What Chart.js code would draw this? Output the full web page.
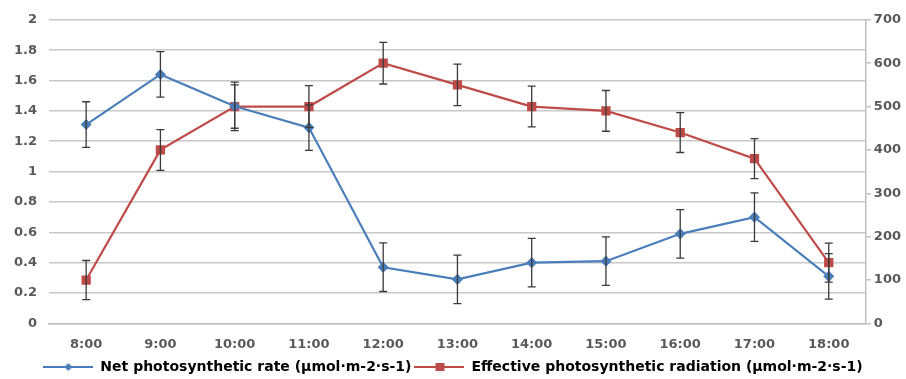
<!DOCTYPE html>
<html>
<head>
<meta charset="utf-8">
<script src="https://cdn.jsdelivr.net/npm/chart.js@4.4.0/dist/chart.umd.min.js"></script>
<style>
  html, body { margin: 0; padding: 0; background: #fff; }
  #wrap { width: 906px; height: 379px; }
</style>
</head>
<body>
<div id="wrap"><canvas id="chart"></canvas></div>
<script>
// categories and values
const hours = ['8:00', '9:00', '10:00', '11:00', '12:00', '13:00', '14:00', '15:00', '16:00', '17:00', '18:00'];
const netRate = [1.31, 1.64, 1.43, 1.29, 0.37, 0.29, 0.40, 0.41, 0.59, 0.70, 0.31];
const netRateErr = [0.15, 0.15, 0.16, 0.15, 0.16, 0.16, 0.16, 0.16, 0.16, 0.16, 0.15];
const radiation = [100, 400, 500, 500, 600, 550, 500, 490, 440, 380, 140];
const radiationErr = [45, 47, 50, 48, 48, 48, 47, 47, 46, 46, 45];
const leftTicks = [0, 0.2, 0.4, 0.6, 0.8, 1, 1.2, 1.4, 1.6, 1.8, 2];
const rightTicks = [0, 100, 200, 300, 400, 500, 600, 700];

const blue = '#4a7ebb';
const red = '#be4b48';
const tickFont = { family: 'DejaVu Sans', size: 13, weight: 'bold' };

// legend symbol: line with marker in the middle, like the Excel legend
function legendIcon(color, shape) {
  const c = document.createElement('canvas');
  c.width = 50; c.height = 12;
  const g = c.getContext('2d');
  g.strokeStyle = color; g.lineWidth = 2;
  g.beginPath(); g.moveTo(0, 6); g.lineTo(50, 6); g.stroke();
  g.fillStyle = color;
  if (shape === 'diamond') {
    g.beginPath(); g.moveTo(25, 2); g.lineTo(29, 6); g.lineTo(25, 10); g.lineTo(21, 6); g.closePath(); g.fill();
  } else {
    g.fillRect(21, 2, 9, 8);
  }
  return c;
}

// error bars drawn through the chart's own scales
const errorBars = {
  id: 'errorBars',
  afterDatasetsDraw(chart) {
    const ctx = chart.ctx;
    const sets = [[0, netRateErr], [1, radiationErr]];
    ctx.save();
    ctx.strokeStyle = '#3a3a3a';
    ctx.lineWidth = 1.3;
    sets.forEach(([i, errs]) => {
      const ds = chart.data.datasets[i];
      const meta = chart.getDatasetMeta(i);
      const yScale = chart.scales[ds.yAxisID];
      meta.data.forEach((pt, j) => {
        const x = pt.x;
        const top = yScale.getPixelForValue(ds.data[j] + errs[j]);
        const bot = yScale.getPixelForValue(ds.data[j] - errs[j]);
        ctx.beginPath();
        ctx.moveTo(x, top); ctx.lineTo(x, bot);
        ctx.moveTo(x - 4, top); ctx.lineTo(x + 4, top);
        ctx.moveTo(x - 4, bot); ctx.lineTo(x + 4, bot);
        ctx.stroke();
      });
    });
    ctx.restore();
  }
};

const config = {
  type: 'line',
  data: {
    labels: hours,
    datasets: [{
      label: 'Net photosynthetic rate (\u03bcmol\u00b7m-2\u00b7s-1)',
      data: netRate,
      yAxisID: 'y',
      borderColor: blue,
      backgroundColor: blue,
      borderWidth: 2.2,
      pointStyle: 'rectRot',
      pointRadius: 4,
      tension: 0
    }, {
      label: 'Effective photosynthetic radiation (\u03bcmol\u00b7m-2\u00b7s-1)',
      data: radiation,
      yAxisID: 'y1',
      borderColor: red,
      backgroundColor: red,
      borderWidth: 2.2,
      pointStyle: 'rect',
      pointRadius: 5,
      tension: 0
    }]
  },
  options: {
    responsive: true,
    maintainAspectRatio: false,
    animation: false,
    layout: { padding: { left: 2, right: 2, top: 16, bottom: -5 } },
    plugins: {
      tooltip: { enabled: false },
      legend: {
        position: 'bottom',
        labels: {
          font: { family: 'DejaVu Sans', size: 14, weight: 'bold' },
          color: '#404040',
          padding: 3,
          boxHeight: 12,
          pointStyleWidth: 50,
          usePointStyle: true,
          generateLabels(chart) {
            return chart.data.datasets.map((ds, i) => ({
              text: ds.label,
              pointStyle: legendIcon(ds.borderColor, i === 0 ? 'diamond' : 'square'),
              fillStyle: ds.borderColor,
              strokeStyle: ds.borderColor,
              lineWidth: 0,
              datasetIndex: i
            }));
          }
        }
      }
    },
    scales: {
      x: {
        offset: true,
        grid: { display: false },
        border: { color: '#bfbfbf', width: 1.5 },
        ticks: { color: '#595959', font: tickFont, padding: 5 }
      },
      y: {
        position: 'left',
        min: 0, max: 2,
        afterBuildTicks(axis) { axis.ticks = leftTicks.map(v => ({ value: v })); },
        grid: { color: '#c8c8c8', lineWidth: 1.5, drawTicks: false },
        border: { display: false },
        ticks: { color: '#595959', font: tickFont, padding: 12, callback: v => String(v) }
      },
      y1: {
        position: 'right',
        min: 0, max: 700,
        afterBuildTicks(axis) { axis.ticks = rightTicks.map(v => ({ value: v })); },
        grid: { drawOnChartArea: false, color: '#bfbfbf', tickLength: 5, lineWidth: 1.5 },
        border: { color: '#bfbfbf', width: 1.5 },
        ticks: { color: '#595959', font: tickFont, padding: 3 }
      }
    }
  },
  plugins: [errorBars]
};

const chart = new Chart(document.getElementById('chart'), config);
</script>
</body>
</html>
